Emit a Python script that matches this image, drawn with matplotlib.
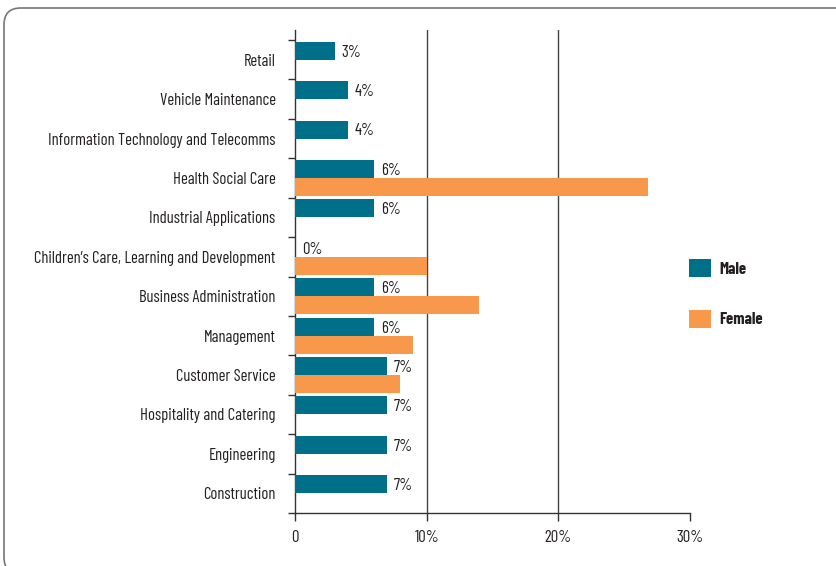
import matplotlib
matplotlib.use("Agg")
import matplotlib.pyplot as plt
from matplotlib.patches import FancyBboxPatch, Patch
from matplotlib.transforms import ScaledTranslation
import numpy as np

categories = ["Retail", "Vehicle Maintenance", "Information Technology and Telecomms",
              "Health Social Care", "Industrial Applications",
              "Children\u2019s Care, Learning and Development", "Business Administration",
              "Management", "Customer Service", "Hospitality and Catering",
              "Engineering", "Construction"]
male = [3, 4, 4, 6, 6, 0, 6, 6, 7, 7, 7, 7]
male_labels = ["3%", "4%", "4%", "6%", "6%", "0%", "6%", "6%", "7%", "7%", "7%", "7%"]
female = [None, None, None, 26.8, None, 10, 14, 9, 8, None, None, None]
xticks = [0, 10, 20, 30]
xtick_labels = ["0", "10%", "20%", "30%"]

TEAL = "#006F8A"
ORANGE = "#F7984A"
TXT = "#231F20"
FONT = ["Barlow Condensed", "Roboto Condensed", "DejaVu Sans"]
FS = 12

plt.rcParams["font.family"] = FONT
plt.rcParams["font.size"] = FS

W, H = 836, 566
fig = plt.figure(figsize=(W / 100, H / 100), dpi=100)

# frame
frame = FancyBboxPatch((4 / W, -8 / H), (W + 30) / W, (H) / H,
                       boxstyle="round,pad=0,rounding_size=0.02",
                       transform=fig.transFigure, facecolor="none",
                       edgecolor="#777777", linewidth=1.2, mutation_aspect=W / H,
                       zorder=-5)
fig.patches.append(frame)

ax = fig.add_axes([295 / W, (H - 513) / H, (690 - 295) / W, (513 - 30) / H])
ax.patch.set_alpha(0)

n = len(categories)
y = np.arange(n)
bh = 0.457
ax.barh(y - bh / 2, male, height=bh, color=TEAL, zorder=3)
fy = [yy + bh / 2 for yy, v in zip(y, female) if v is not None]
fv = [v for v in female if v is not None]
ax.barh(fy, fv, height=bh, color=ORANGE, zorder=3)

for yy, v, lab in zip(y, male, male_labels):
    ax.annotate(lab, (v, yy - bh / 2), xytext=(5, -1), textcoords="offset points",
                va="center", ha="left", color=TXT, fontsize=FS)

ax.set_xlim(0, 30)
ax.set_ylim(11.5, -0.754)
ax.set_xticks(xticks)
ax.set_xticklabels(xtick_labels, color=TXT)
ax.set_yticks(y)
ax.set_yticklabels(categories, color=TXT)
shift = ScaledTranslation(0, 2.2 / 72, fig.dpi_scale_trans)
for lbl in ax.get_yticklabels():
    lbl.set_transform(lbl.get_transform() + shift)
ax.tick_params(axis="y", which="major", length=0, pad=14)
ax.set_yticks(np.arange(n + 1) - 0.5, minor=True)
ax.tick_params(axis="y", which="minor", length=5, width=1, color="#333333")
ax.tick_params(axis="x", length=6, width=1, color="#333333", pad=6)

for s in ["top", "right"]:
    ax.spines[s].set_visible(False)
for s in ["left", "bottom"]:
    ax.spines[s].set_color("#333333")
    ax.spines[s].set_linewidth(1.0)

for g in [10, 20]:
    ax.axvline(g, color="#444444", linewidth=1.0, zorder=1)

handles = [Patch(facecolor=TEAL, label="Male"), Patch(facecolor=ORANGE, label="Female")]
leg = fig.legend(handles=handles, loc="center left",
                 bbox_to_anchor=(674 / W, (H - 293.5) / H), frameon=False,
                 handlelength=1.3, handleheight=1.3, labelspacing=1.95,
                 handletextpad=0.5, prop={"weight": "bold", "size": FS,
                                          "family": FONT})
for t in leg.get_texts():
    t.set_color(TXT)

fig.savefig("out.png", dpi=100)
